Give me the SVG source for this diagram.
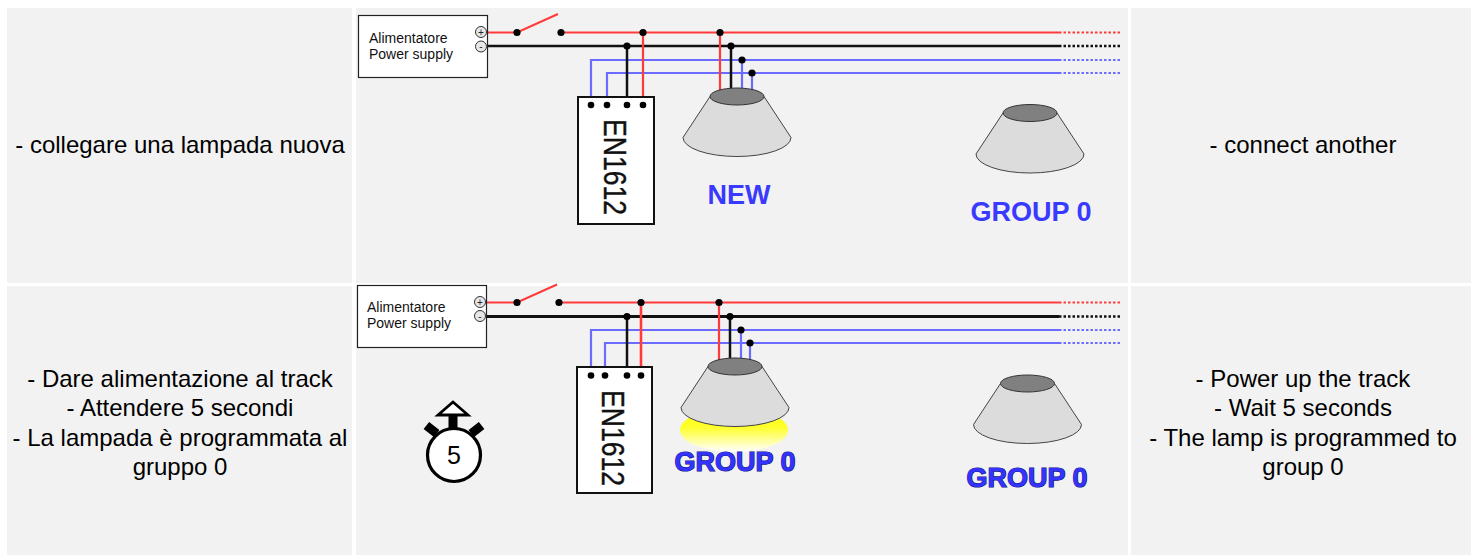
<svg xmlns="http://www.w3.org/2000/svg" width="1471" height="555" viewBox="0 0 1471 555">
  <defs>
    <style>
      .cell { fill: #f2f2f2; }
      .caption { font-family: "Liberation Sans", Arial, sans-serif; font-size: 24px; fill: #000; text-anchor: middle; }
      .psu { fill: #fff; stroke: #222; stroke-width: 1.2; }
      .psu-text { font-family: "Liberation Sans", Arial, sans-serif; font-size: 14px; fill: #111; }
      .term { fill: #e6e6e6; stroke: #333; stroke-width: 1; }
      .term-sign { font-family: "Liberation Sans", Arial, sans-serif; font-size: 10px; fill: #222; text-anchor: middle; }
      .dev { fill: #fff; stroke: #111; stroke-width: 2; }
      .dev-text { font-family: "Liberation Sans", Arial, sans-serif; font-size: 31px; fill: #111; text-anchor: middle; stroke: #111; stroke-width: 0.4; }
      .label { font-family: "Liberation Sans", Arial, sans-serif; font-weight: bold; font-size: 27px; fill: #3a3aff; text-anchor: middle; }
      .label-lit { stroke: #10107a; stroke-width: 1.2; paint-order: stroke; fill: #3333ff; }
      .w-red { stroke: #ff3a3a; stroke-width: 2.2; fill: none; }
      .w-blk { stroke: #111; stroke-width: 2.5; fill: none; }
      .w-blu { stroke: #6b6bff; stroke-width: 2.2; fill: none; }
      .dash { stroke-dasharray: 2.5 2; }
      .dot { fill: #000; }
      .lamp-body { fill: #dcdcdc; stroke: #444; stroke-width: 1; }
      .lamp-top { fill: #808080; stroke: #333; stroke-width: 1; }
    </style>
    <linearGradient id="glow" x1="0" y1="0" x2="0" y2="1">
      <stop offset="0" stop-color="#ffff00"/>
      <stop offset="0.45" stop-color="#ffff30"/>
      <stop offset="1" stop-color="#ffffff"/>
    </linearGradient>
    <g id="lamp">
      <path class="lamp-body" d="M-27,0 L-54,41 A54,19 0 0 0 54,41 L27,0 Z"/>
      <ellipse class="lamp-top" cx="0" cy="0" rx="27" ry="8.5"/>
    </g>
  </defs>

  <!-- table cells -->
  <g id="cells">
    <rect class="cell" x="7" y="8" width="345" height="275"/>
    <rect class="cell" x="356" y="8" width="772" height="275"/>
    <rect class="cell" x="1131" y="8" width="340" height="275"/>
    <rect class="cell" x="7" y="286" width="345" height="269"/>
    <rect class="cell" x="356" y="286" width="772" height="269"/>
    <rect class="cell" x="1131" y="286" width="340" height="269"/>
  </g>

  <!-- captions -->
  <g id="caption-it-1">
    <text class="caption" x="180" y="153">- collegare una lampada nuova</text>
  </g>
  <g id="caption-en-1">
    <text class="caption" x="1303" y="153">- connect another</text>
  </g>
  <g id="caption-it-2">
    <text class="caption" x="180" y="387">- Dare alimentazione al track</text>
    <text class="caption" x="180" y="416">- Attendere 5 secondi</text>
    <text class="caption" x="180" y="446">- La lampada è programmata al</text>
    <text class="caption" x="180" y="475">gruppo 0</text>
  </g>
  <g id="caption-en-2">
    <text class="caption" x="1303" y="387">- Power up the track</text>
    <text class="caption" x="1303" y="416">- Wait 5 seconds</text>
    <text class="caption" x="1303" y="446">- The lamp is programmed to</text>
    <text class="caption" x="1303" y="475">group 0</text>
  </g>

  <!-- wiring -->
  <g id="connectors">
    <!-- upper panel -->
    <path class="w-red" d="M487,32.5 H517 L558,14 M561,32.5 H1059"/>
    <path class="w-red dash" d="M1059,32.5 H1120"/>
    <path class="w-blk" d="M486,46 H1059"/>
    <path class="w-blk dash" d="M1059,46 H1120"/>
    <path class="w-blu" d="M591,105 V60 H1059"/>
    <path class="w-blu dash" d="M1059,60 H1120"/>
    <path class="w-blu" d="M607,105 V73 H1059"/>
    <path class="w-blu dash" d="M1059,73 H1120"/>
    <path class="w-blk" d="M627,46 V105"/>
    <path class="w-red" d="M643,32.5 V105"/>
    <path class="w-red" d="M720,32.5 V96"/>
    <path class="w-blk" d="M731,46 V96"/>
    <path class="w-blu" d="M742,60 V96"/>
    <path class="w-blu" d="M752,73 V96"/>
    <!-- lower panel -->
    <path class="w-red" d="M487,302.5 H517 L557,284.5 M559,302.5 H1059"/>
    <path class="w-red dash" d="M1059,302.5 H1120"/>
    <path class="w-blk" d="M486,316.5 H1059" style="stroke-width:3"/>
    <path class="w-blk dash" d="M1059,316.5 H1120"/>
    <path class="w-blu" d="M591,375.5 V330 H1059"/>
    <path class="w-blu dash" d="M1059,330 H1120"/>
    <path class="w-blu" d="M605,375.5 V343 H1059"/>
    <path class="w-blu dash" d="M1059,343 H1120"/>
    <path class="w-blk" d="M627,316.5 V375.5"/>
    <path class="w-red" d="M641,302.5 V375.5" style="stroke-width:2.6"/>
    <path class="w-red" d="M719,302.5 V366"/>
    <path class="w-blk" d="M730,316.5 V366"/>
    <path class="w-blu" d="M741,330 V366"/>
    <path class="w-blu" d="M750,343 V366"/>
  </g>

  <!-- power supplies -->
  <g id="psu-1">
    <rect class="psu" x="358.5" y="15.5" width="129" height="62"/>
    <text class="psu-text" x="369" y="43">Alimentatore</text>
    <text class="psu-text" x="369" y="59">Power supply</text>
    <circle class="term" cx="481" cy="32" r="5.5"/>
    <text class="term-sign" x="481" y="35.5">+</text>
    <circle class="term" cx="481" cy="46.5" r="5.5"/>
    <text class="term-sign" x="481" y="50">-</text>
  </g>
  <g id="psu-2">
    <rect class="psu" x="357.5" y="285.5" width="129" height="62"/>
    <text class="psu-text" x="367" y="312">Alimentatore</text>
    <text class="psu-text" x="367" y="328">Power supply</text>
    <circle class="term" cx="480" cy="302" r="5.5"/>
    <text class="term-sign" x="480" y="305.5">+</text>
    <circle class="term" cx="480" cy="316" r="5.5"/>
    <text class="term-sign" x="480" y="319.5">-</text>
  </g>

  <!-- EN1612 modules -->
  <g id="en1612-1">
    <rect class="dev" x="578" y="97" width="76" height="127"/>
    <text class="dev-text" transform="translate(604,167) rotate(90)" x="0" y="0" textLength="96" lengthAdjust="spacingAndGlyphs">EN1612</text>
  </g>
  <g id="en1612-2">
    <rect class="dev" x="577" y="367" width="75" height="126"/>
    <text class="dev-text" transform="translate(602,438) rotate(90)" x="0" y="0" textLength="96" lengthAdjust="spacingAndGlyphs">EN1612</text>
  </g>

  <!-- junction dots -->
  <g id="junctions">
    <circle class="dot" cx="517" cy="32.5" r="3.6"/>
    <circle class="dot" cx="561" cy="32.5" r="3.6"/>
    <circle class="dot" cx="643" cy="32.5" r="3.6"/>
    <circle class="dot" cx="720" cy="32.5" r="3.6"/>
    <circle class="dot" cx="627" cy="46" r="3.6"/>
    <circle class="dot" cx="731" cy="46" r="3.6"/>
    <circle class="dot" cx="742" cy="60" r="3.6"/>
    <circle class="dot" cx="752" cy="73" r="3.6"/>
    <circle class="dot" cx="591" cy="105" r="3.3"/>
    <circle class="dot" cx="607" cy="105" r="3.3"/>
    <circle class="dot" cx="627" cy="105" r="3.3"/>
    <circle class="dot" cx="643" cy="105" r="3.3"/>
    <circle class="dot" cx="517" cy="302.5" r="3.6"/>
    <circle class="dot" cx="559" cy="302.5" r="3.6"/>
    <circle class="dot" cx="641" cy="302.5" r="3.6"/>
    <circle class="dot" cx="719" cy="302.5" r="3.6"/>
    <circle class="dot" cx="627" cy="316.5" r="3.6"/>
    <circle class="dot" cx="730" cy="316.5" r="3.6"/>
    <circle class="dot" cx="741" cy="330" r="3.6"/>
    <circle class="dot" cx="750" cy="343" r="3.6"/>
    <circle class="dot" cx="591" cy="375.5" r="3.3"/>
    <circle class="dot" cx="605" cy="375.5" r="3.3"/>
    <circle class="dot" cx="627" cy="375.5" r="3.3"/>
    <circle class="dot" cx="641" cy="375.5" r="3.3"/>
  </g>

  <!-- lamps -->
  <g id="lamp-new">
    <use href="#lamp" transform="translate(737,96.5)"/>
    <text class="label" x="739" y="204">NEW</text>
  </g>
  <g id="lamp-group0-a">
    <use href="#lamp" transform="translate(1030,113)"/>
    <text class="label" x="1031" y="221">GROUP 0</text>
  </g>
  <g id="lamp-programmed">
    <ellipse cx="734" cy="430" rx="54" ry="22" fill="url(#glow)"/>
    <use href="#lamp" transform="translate(735,366.5)"/>
    <text class="label label-lit" x="735" y="471">GROUP 0</text>
  </g>
  <g id="lamp-group0-b">
    <use href="#lamp" transform="translate(1027.5,383.5)"/>
    <text class="label label-lit" x="1027" y="487">GROUP 0</text>
  </g>

  <!-- timer -->
  <g id="timer">
    <rect x="425" y="425" width="13" height="9" fill="#000" transform="rotate(38 431.5 429.5)"/>
    <rect x="470" y="425" width="13" height="9" fill="#000" transform="rotate(-38 476.5 429.5)"/>
    <rect x="448.5" y="414" width="9" height="16" fill="#000"/>
    <polygon points="453,402 438,415 468,415" fill="#fff" stroke="#000" stroke-width="2.8" stroke-linejoin="miter"/>
    <circle cx="454" cy="455" r="26.5" fill="#fff" stroke="#000" stroke-width="3.2"/>
    <text x="454" y="464" font-family="Liberation Sans, Arial, sans-serif" font-size="25" text-anchor="middle" fill="#000">5</text>
  </g>
</svg>
